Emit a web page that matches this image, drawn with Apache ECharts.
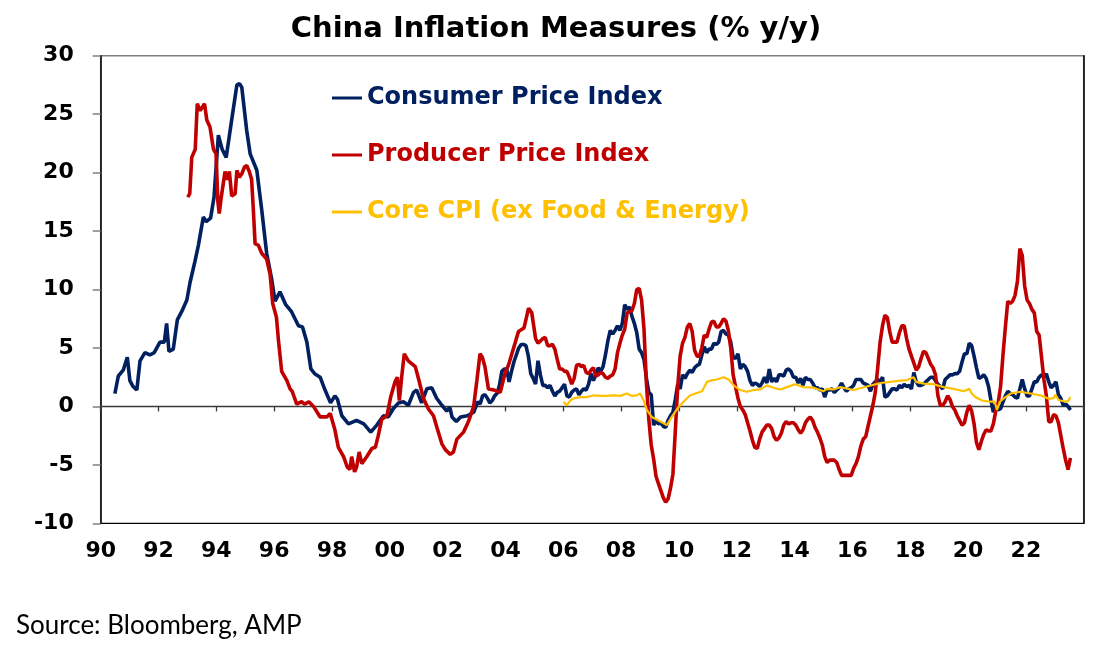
<!DOCTYPE html>
<html>
<head>
<meta charset="utf-8">
<script src="https://cdn.jsdelivr.net/npm/echarts@6/dist/echarts.min.js"></script>
<style>
html,body{margin:0;padding:0;background:#fff;}
#chart{width:1112px;height:661px;}
</style>
</head>
<body>
<div id="chart"></div>
<script>
// ---- Data ----
const seriesNames = ['Consumer Price Index', 'Producer Price Index', 'Core CPI (ex Food & Energy)'];
const xTickYears = [1990, 1992, 1994, 1996, 1998, 2000, 2002, 2004, 2006, 2008, 2010, 2012, 2014, 2016, 2018, 2020, 2022];

// CPI % y/y, [decimal year, value], 1990 - 2002
const cpiEarly = [
  [1990.49,1.1],[1990.61,2.6],[1990.78,3.1],[1990.92,4.2],[1991.01,2.2],[1991.12,1.7],[1991.25,1.4],
  [1991.36,3.9],[1991.53,4.6],[1991.7,4.4],[1991.85,4.6],[1992.05,5.5],[1992.2,5.5],[1992.28,7.1],
  [1992.36,4.7],[1992.51,4.9],[1992.65,7.4],[1992.8,8.1],[1992.98,9.1],[1993.09,10.6],[1993.26,12.4],
  [1993.38,13.8],[1993.55,16.2],[1993.65,15.8],[1993.8,16.1],[1993.92,17.9],[1994.07,23.2],[1994.2,22.0],
  [1994.34,21.3],[1994.53,24.5],[1994.71,27.5],[1994.8,27.6],[1994.88,27.3],[1995.05,23.6],[1995.17,21.6],
  [1995.4,20.2],[1995.57,16.8],[1995.74,13.1],[1995.92,10.8],[1996.03,9.0],[1996.2,9.8],[1996.4,8.7],
  [1996.6,8.1],[1996.84,6.9],[1996.98,6.8],[1997.13,5.5],[1997.27,3.2],[1997.4,2.8],[1997.59,2.5],
  [1997.76,1.4],[1997.95,0.3],[1998.1,0.9],[1998.19,0.6],[1998.34,-0.8],[1998.57,-1.5],[1998.85,-1.2],
  [1999.1,-1.5],[1999.34,-2.2],[1999.55,-1.6],[1999.78,-0.8],[1999.95,-0.9],[2000.12,-0.2],[2000.3,0.3],
  [2000.47,0.4],[2000.64,0.1],[2000.82,1.2],[2000.93,1.4],[2001.1,0.3],[2001.28,1.5],[2001.45,1.6],
  [2001.62,0.7],[2001.8,0.1],[2001.97,-0.4],[2002.08,-0.1],[2002.15,-0.9],[2002.3,-1.3],[2002.45,-0.9],
  [2002.68,-0.8],[2002.9,-0.5]
];
// CPI % y/y, monthly from Jan 2003
const cpiMonthlyStart = 2003;
const cpiMonthly = [
  0.4,0.2,0.9,1.0,0.7,0.3,0.5,0.9,1.1,1.8,3.0,3.2,
  3.2,2.1,3.0,3.8,4.4,5.0,5.3,5.3,5.2,4.3,2.8,2.4,
  1.9,3.9,2.7,1.8,1.8,1.6,1.8,1.3,0.9,1.2,1.3,1.6,
  1.9,0.9,0.8,1.2,1.4,1.5,1.0,1.3,1.5,1.4,1.9,2.8,
  2.2,2.7,3.3,3.0,3.4,4.4,5.6,6.5,6.2,6.5,6.9,6.5,
  7.1,8.7,8.3,8.5,7.7,7.1,6.3,4.9,4.6,4.0,2.4,1.2,
  1.0,-1.6,-1.2,-1.5,-1.4,-1.7,-1.8,-1.2,-0.8,-0.5,0.6,1.9,
  1.5,2.7,2.4,2.8,3.1,2.9,3.3,3.5,3.6,4.4,5.1,4.6,
  4.9,4.9,5.4,5.3,5.5,6.4,6.5,6.2,6.1,5.5,4.2,4.1,
  4.5,3.2,3.6,3.4,3.0,2.2,1.8,2.0,1.9,1.7,2.0,2.5,
  2.0,3.2,2.1,2.4,2.1,2.7,2.7,2.6,3.1,3.2,3.0,2.5,
  2.5,2.0,2.4,1.8,2.5,2.3,2.3,2.0,1.6,1.6,1.4,1.5,
  0.8,1.4,1.4,1.5,1.2,1.4,1.6,2.0,1.6,1.3,1.5,1.6,
  1.8,2.3,2.3,2.3,2.0,1.9,1.8,1.3,1.9,2.1,2.3,2.1,
  2.5,0.8,0.9,1.2,1.5,1.5,1.4,1.8,1.6,1.9,1.7,1.8,
  1.5,2.9,2.1,1.8,1.8,1.9,2.1,2.3,2.5,2.5,2.2,1.9,
  1.7,1.5,2.3,2.5,2.7,2.7,2.8,2.8,3.0,3.8,4.5,4.5,
  5.4,5.2,4.3,3.3,2.4,2.5,2.7,2.4,1.7,0.5,-0.5,0.2,
  -0.3,-0.2,0.4,0.9,1.3,1.1,1.0,0.8,0.7,1.5,2.3,1.5,
  0.9,0.9,1.5,2.1,2.1,2.5,2.7,2.5,2.8,2.1,1.6,1.8,
  2.1,1.0,0.7,0.1,0.2,0.0,-0.3
];

// PPI % y/y, [decimal year, value], 1993 - 2004
const ppiEarly = [
  [1993.01,17.9],[1993.08,18.2],[1993.15,21.3],[1993.27,22.0],[1993.34,25.9],[1993.44,25.3],[1993.59,25.9],
  [1993.67,24.5],[1993.78,23.9],[1993.9,22.0],[1993.99,21.6],[1994.05,17.6],[1994.1,16.5],[1994.17,17.9],
  [1994.3,20.1],[1994.36,19.4],[1994.45,20.1],[1994.53,18.0],[1994.65,18.2],[1994.71,20.2],[1994.8,19.6],
  [1994.88,19.9],[1994.98,20.5],[1995.05,20.6],[1995.14,20.1],[1995.22,19.4],[1995.28,16.8],[1995.34,13.9],
  [1995.45,13.8],[1995.57,13.1],[1995.74,12.6],[1995.86,11.3],[1995.95,8.8],[1996.08,7.6],[1996.15,5.6],
  [1996.26,3.0],[1996.44,2.2],[1996.55,1.5],[1996.62,1.3],[1996.78,0.2],[1996.95,0.4],[1997.05,0.2],
  [1997.2,0.4],[1997.36,0.0],[1997.59,-0.9],[1997.82,-0.9],[1997.94,-0.6],[1998.1,-2.0],[1998.22,-3.5],
  [1998.4,-4.3],[1998.53,-5.2],[1998.62,-5.4],[1998.68,-4.3],[1998.78,-5.6],[1998.85,-5.2],[1998.94,-3.9],
  [1999.03,-4.9],[1999.2,-4.3],[1999.38,-3.6],[1999.5,-3.5],[1999.6,-2.5],[1999.72,-1.1],[1999.9,-0.8],
  [2000.03,0.8],[2000.18,2.1],[2000.26,2.5],[2000.33,0.5],[2000.41,2.5],[2000.5,4.5],[2000.64,3.9],
  [2000.88,3.4],[2001.0,2.3],[2001.16,0.7],[2001.33,-0.2],[2001.51,-0.8],[2001.63,-1.8],[2001.8,-3.2],
  [2001.92,-3.7],[2002.09,-4.1],[2002.2,-3.9],[2002.32,-2.8],[2002.55,-2.2],[2002.72,-1.3],[2002.9,0.0],
  [2003.01,2.2],[2003.12,4.5],[2003.2,4.2],[2003.29,3.4],[2003.41,1.5],[2003.6,1.4],[2003.82,1.2],
  [2003.99,2.9],[2004.1,3.5],[2004.33,5.4],[2004.45,6.4],[2004.64,6.7],[2004.8,8.4],[2004.91,8.0]
];
// PPI % y/y, monthly from Jan 2005
const ppiMonthlyStart = 2005;
const ppiMonthly = [
  5.8,5.4,5.6,5.8,5.9,5.2,5.2,5.3,4.9,4.0,3.2,3.2,
  3.0,3.0,2.5,1.9,2.4,3.5,3.6,3.4,3.5,2.9,2.8,3.1,
  3.3,2.6,2.7,2.9,2.8,2.5,2.4,2.6,2.7,3.2,4.6,5.4,
  6.1,6.6,8.0,8.1,8.2,8.8,10.0,10.1,9.1,6.6,2.0,-1.1,
  -3.3,-4.5,-6.0,-6.6,-7.2,-7.8,-8.2,-7.9,-7.0,-5.8,-2.1,1.7,
  4.3,5.4,5.9,6.8,7.1,6.4,4.8,4.3,4.3,5.0,6.1,5.9,
  6.6,7.2,7.3,6.8,6.8,7.1,7.5,7.3,6.5,5.0,2.7,1.7,
  0.7,0.0,-0.3,-0.7,-1.4,-2.1,-2.9,-3.5,-3.6,-2.8,-2.2,-1.9,
  -1.6,-1.6,-1.9,-2.6,-2.9,-2.7,-2.3,-1.6,-1.3,-1.5,-1.4,-1.4,
  -1.6,-2.0,-2.3,-2.0,-1.4,-1.1,-0.9,-1.2,-1.8,-2.2,-2.7,-3.3,
  -4.3,-4.8,-4.6,-4.6,-4.6,-4.8,-5.4,-5.9,-5.9,-5.9,-5.9,-5.9,
  -5.3,-4.9,-4.3,-3.4,-2.8,-2.6,-1.7,-0.8,0.1,1.2,3.3,5.5,
  6.9,7.8,7.6,6.4,5.5,5.5,5.5,6.3,6.9,6.9,5.8,4.9,
  4.3,3.7,3.1,3.4,4.1,4.7,4.6,4.1,3.6,3.3,2.7,0.9,
  0.1,0.1,0.4,0.9,0.6,0.0,-0.3,-0.8,-1.2,-1.6,-1.4,-0.5,
  0.1,-0.4,-1.5,-3.1,-3.7,-3.0,-2.4,-2.0,-2.1,-2.1,-1.5,-0.4,
  0.3,1.7,4.4,6.8,9.0,8.8,9.0,9.5,10.7,13.5,12.9,10.3,
  9.1,8.8,8.3,8.0,6.4,6.1,4.2,2.3,0.9,-1.3,-1.3,-0.7,
  -0.8,-1.4,-2.5,-3.6,-4.6,-5.4,-4.4
];

// Core CPI % y/y, [decimal year, value]
const coreCpi = [
  [2006.0,0.4],[2006.12,0.1],[2006.24,0.5],[2006.36,0.7],[2006.6,0.8],[2006.83,0.8],[2007.05,0.95],
  [2007.28,0.9],[2007.5,0.9],[2007.74,0.95],[2007.97,0.9],[2008.2,1.1],[2008.37,0.9],[2008.55,0.95],
  [2008.66,1.1],[2008.78,0.5],[2008.89,-0.3],[2009.06,-0.9],[2009.29,-1.2],[2009.58,-1.6],[2009.75,-0.9],
  [2009.99,-0.05],[2010.16,0.4],[2010.39,0.95],[2010.62,1.15],[2010.8,1.3],[2010.97,2.1],[2011.08,2.2],
  [2011.31,2.3],[2011.54,2.5],[2011.72,2.3],[2011.89,1.8],[2012.12,1.4],[2012.35,1.25],[2012.58,1.4],
  [2012.8,1.45],[2013.04,1.8],[2013.27,1.6],[2013.5,1.45],[2013.74,1.65],[2014.02,1.9],[2014.31,1.65],
  [2014.66,1.6],[2015.0,1.3],[2015.06,1.2],[2015.12,1.5],[2015.35,1.45],[2015.58,1.65],[2016.04,1.4],
  [2016.5,1.7],[2016.97,2.0],[2017.31,2.1],[2017.66,2.2],[2017.89,2.25],[2018.12,2.5],[2018.2,2.1],
  [2018.47,1.95],[2018.8,1.9],[2019.16,1.65],[2019.5,1.5],[2019.85,1.3],[2020.04,1.5],[2020.13,1.1],
  [2020.25,0.8],[2020.49,0.5],[2020.77,0.4],[2020.92,0.4],[2021.0,-0.3],[2021.1,0.4],[2021.29,0.8],
  [2021.47,1.1],[2021.81,1.25],[2022.16,1.1],[2022.5,0.95],[2022.79,0.65],[2022.96,0.7],[2023.02,1.0],
  [2023.13,0.55],[2023.37,0.4],[2023.46,0.45],[2023.54,0.8]
];

const yMin = -10, yMax = 30, yStep = 5;
const xMin = 1990, xMax = 2024, xStep = 2;

// ---- Build series data ----
function monthly(startYear, values) {
  return values.map((v, i) => [startYear + (i + 0.5) / 12, v]);
}
const cpiData = cpiEarly.concat(monthly(cpiMonthlyStart, cpiMonthly));
const ppiData = ppiEarly.concat(monthly(ppiMonthlyStart, ppiMonthly));

const colors = ['#002060', '#C00000', '#FFC000'];
const boldFont = 'DejaVu Sans';

const chart = echarts.init(document.getElementById('chart'), null, {renderer: 'canvas'});
const yearLabel = v => (xTickYears.indexOf(v) >= 0 ? String(v % 100).padStart(2, '0') : '');

chart.setOption({
  animation: false,
  backgroundColor: '#ffffff',
  title: {
    text: 'China Inflation Measures (% y/y)',
    left: 'center',
    top: 10,
    textStyle: {fontFamily: boldFont, fontWeight: 'bold', fontSize: 29, color: '#000'}
  },
  legend: {
    orient: 'vertical',
    left: 327,
    top: 81,
    itemGap: 33,
    itemWidth: 30,
    itemHeight: 3,
    icon: 'rect',
    textStyle: {fontFamily: boldFont, fontWeight: 'bold', fontSize: 24, lineHeight: 24},
    data: seriesNames.map((n, i) => ({name: n, textStyle: {color: colors[i]}}))
  },
  grid: {
    left: 100.7, right: 28.3, top: 55.7, bottom: 137.7,
    show: true, borderColor: '#808080', borderWidth: 1.5, backgroundColor: '#fff'
  },
  graphic: [{
    type: 'text', left: 16, top: 613,
    style: {text: 'Source: Bloomberg, AMP', fontFamily: 'Lato', fontSize: 26, fill: '#000'}
  }],
  xAxis: [{
    type: 'value', min: xMin, max: xMax, interval: xStep, position: 'bottom',
    axisLine: {onZero: false, lineStyle: {color: '#000', width: 1.2}},
    axisTick: {show: false},
    splitLine: {show: false},
    axisLabel: {formatter: yearLabel, fontFamily: boldFont, fontWeight: 'bold', fontSize: 22, color: '#000', margin: 17, showMaxLabel: false}
  }, {
    type: 'value', min: xMin, max: xMax, interval: xStep, position: 'bottom',
    axisLine: {onZero: true, lineStyle: {color: '#3a3a3a', width: 1.3}},
    axisTick: {show: true, length: 5, lineStyle: {color: '#3a3a3a', width: 1.3}},
    splitLine: {show: false},
    axisLabel: {show: false}
  }],
  yAxis: [{
    type: 'value', min: yMin, max: yMax, interval: yStep,
    axisLine: {show: true, onZero: false, lineStyle: {color: '#000', width: 1.5}},
    axisTick: {show: true, length: 8, lineStyle: {color: '#808080', width: 1.5}},
    splitLine: {show: false},
    axisLabel: {fontFamily: boldFont, fontWeight: 'bold', fontSize: 22, color: '#000', margin: 27}
  }, {
    type: 'value', min: yMin, max: yMax, interval: yStep, position: 'right',
    axisLine: {show: true, onZero: false, lineStyle: {color: '#000', width: 1.5}},
    axisTick: {show: false}, axisLabel: {show: false}, splitLine: {show: false}
  }],
  series: [{
    name: seriesNames[0], type: 'line', data: cpiData, color: colors[0],
    showSymbol: false, symbol: 'none', lineStyle: {width: 3.6, color: colors[0]}, z: 2
  }, {
    name: seriesNames[1], type: 'line', data: ppiData, color: colors[1],
    showSymbol: false, symbol: 'none', lineStyle: {width: 3.6, color: colors[1]}, z: 3
  }, {
    name: seriesNames[2], type: 'line', data: coreCpi, color: colors[2],
    showSymbol: false, symbol: 'none', lineStyle: {width: 2.2, color: colors[2]}, z: 4
  }]
});
</script>
</body>
</html>
